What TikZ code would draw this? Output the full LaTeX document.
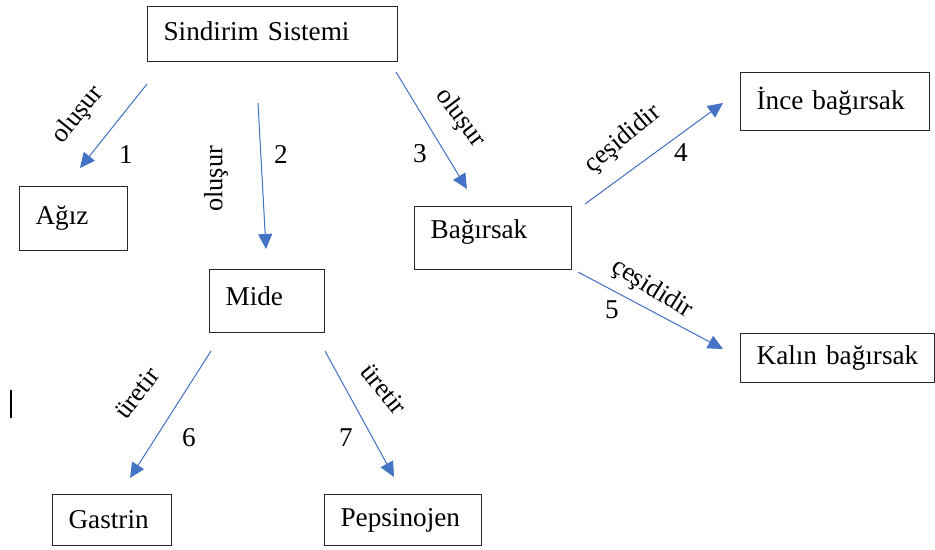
\documentclass[tikz,border=0pt]{standalone}
\usepackage{fontspec}
\setmainfont{Liberation Serif}
\usetikzlibrary{arrows.meta}
\definecolor{okmavi}{HTML}{4472C4}
\tikzset{
  kutu/.style={draw=black!85,line width=0.6pt,anchor=north west,align=left,inner xsep=8pt,inner ysep=0pt,font=\fontsize{13.6}{16}\selectfont},
  ok/.style={draw=okmavi,line width=0.5pt,-{Triangle[length=7.5pt,width=7pt]},fill=okmavi},
  etiket/.style={inner sep=0pt,font=\fontsize{13.2}{16}\selectfont},
  sayi/.style={inner sep=0pt,font=\fontsize{13.6}{16}\selectfont}
}
\begin{document}
\begin{tikzpicture}[x=0.5pt,y=0.5pt]
\useasboundingbox (0,0) rectangle (935,-550);
% kutular
\node[kutu,text width=109pt,minimum height=27.5pt] (sis) at (147,-6) {\raisebox{3pt}{Sindirim Sistemi}};
\node[kutu,text width=38pt,minimum height=32pt] (agiz) at (19,-186) {Ağız};
\node[kutu,text width=41.5pt,minimum height=31.5pt] (mide) at (209,-269) {\raisebox{5pt}{Mide}};
\node[kutu,text width=62.5pt,minimum height=31.5pt] (bag) at (414,-206) {\raisebox{9pt}{Bağırsak}};
\node[kutu,text width=78.5pt,minimum height=29pt] (ince) at (740,-72) {\raisebox{3pt}{İnce bağırsak}};
\node[kutu,text width=81pt,minimum height=24.5pt] (kalin) at (740,-333) {Kalın bağırsak};
\node[kutu,text width=43.5pt,minimum height=25.5pt] (gas) at (52,-494) {Gastrin};
\node[kutu,text width=62.5pt,minimum height=25.5pt] (pep) at (324,-494) {Pepsinojen};
% ok uclari
\coordinate (b1) at (147,-84);  \coordinate (e1) at (80,-168);
\coordinate (b2) at (258,-103); \coordinate (e2) at (266,-249);
\coordinate (b3) at (396,-72);  \coordinate (e3) at (467,-189);
\coordinate (b4) at (585,-204); \coordinate (e4) at (723,-103);
\coordinate (b5) at (578,-272); \coordinate (e5) at (723,-349);
\coordinate (b6) at (211,-351); \coordinate (e6) at (130,-478);
\coordinate (b7) at (325,-351); \coordinate (e7) at (394,-477);
\foreach \i in {1,...,7}
  \draw[ok] (b\i) -- (e\i);
% etiketler
\node[etiket,rotate=51] (l1) at (78,-115) {oluşur};
\node[etiket,rotate=90] (l2) at (216,-179) {oluşur};
\node[etiket,rotate=-53] (l3) at (460,-118) {oluşur};
\node[etiket,rotate=40] (l4) at (623,-139) {çeşididir};
\node[etiket,rotate=-32] (l5) at (652,-289) {çeşididir};
\node[etiket,rotate=52] (l6) at (137,-393) {üretir};
\node[etiket,rotate=-51] (l7) at (384,-389) {üretir};
% numaralar
\node[sayi] (n1) at (126,-155) {1};
\node[sayi] (n2) at (281,-154) {2};
\node[sayi] (n3) at (420,-154) {3};
\node[sayi] (n4) at (681,-153) {4};
\node[sayi] (n5) at (612,-310) {5};
\node[sayi] (n6) at (189,-438) {6};
\node[sayi] (n7) at (346,-438) {7};
% imlec
\draw[line width=1pt] (11,-390) -- (11,-418);
\end{tikzpicture}
\end{document}
